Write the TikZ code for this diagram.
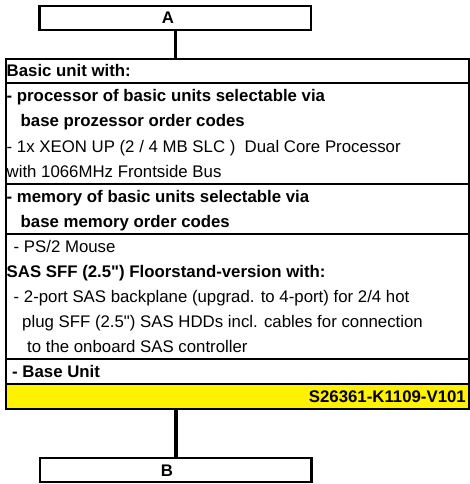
\documentclass[tikz,border=0pt]{standalone}
\usepackage{fontspec}
\setmainfont{Liberation Sans}
\begin{document}
\begin{tikzpicture}[x=1pt,y=-1pt]
\tikzset{
  frame/.style={draw=black, line width=2.5pt, fill=white, inner sep=0pt, minimum width=271.5pt, minimum height=24pt},
  table/.style={draw=black, line width=2pt, inner sep=0pt, minimum width=463pt, minimum height=350pt},
  rowline/.style={draw=black, line width=2pt},
  link/.style={draw=black, line width=3.5pt},
  txt/.style={anchor=base west, inner sep=0pt, font=\fontsize{16.8}{19}\selectfont},
  btxt/.style={anchor=base west, inner sep=0pt, font=\fontsize{16.8}{19}\selectfont\bfseries},
  lbl/.style={inner sep=0pt, anchor=base, font=\fontsize{16.8}{19}\selectfont\bfseries},
}
\useasboundingbox (0,0) rectangle (470,484);
% top and bottom boxes
\node[frame] (A) at (175.25,18.25) {};
\node[lbl] (Atext) at (168,24) {A};
\node[frame] (B) at (175.75,470) {};
\node[lbl] (Btext) at (167,476) {B};
% table
\fill[yellow] (6,384) rectangle (469,409);
\node[table] (T) at (237.5,234) {};
\draw[rowline] (T.west |- 0,83) -- (T.east |- 0,83);
\draw[rowline] (T.west |- 0,184) -- (T.east |- 0,184);
\draw[rowline] (T.west |- 0,234) -- (T.east |- 0,234);
\draw[rowline] (T.west |- 0,359) -- (T.east |- 0,359);
\draw[rowline] (T.west |- 0,384) -- (T.east |- 0,384);
% connectors
\draw[link] (A.south) -- (A.south |- T.north);
\draw[link] (B.north |- T.south) -- (B.north);
% texts
\node[btxt] (r1) at (6.5,77) {Basic unit with:};
\node[btxt] (r2) at (6.5,102) {- processor of basic units selectable via};
\node[btxt] (r3) at (20.5,127) {base prozessor order codes};
\node[txt] (r4) at (6.5,152) {- 1x XEON UP (2 / 4 MB SLC )\ \ Dual Core Processor};
\node[txt] (r5) at (6.5,177) {with 1066MHz Frontside Bus};
\node[btxt] (r6) at (6.5,202) {- memory of basic units selectable via};
\node[btxt] (r7) at (20.5,227) {base memory order codes};
\node[txt] (r8) at (13.5,252) {- PS/2 Mouse};
\node[btxt] (r9) at (6.5,277) {SAS SFF (2.5\textquotedbl) Floorstand-version with:};
\node[txt] (r10) at (13.5,302) {- 2-port SAS backplane (upgrad. to 4-port) for 2/4 hot};
\node[txt] (r11) at (22,327) {plug SFF (2.5\textquotedbl) SAS HDDs incl. cables for connection};
\node[txt] (r12) at (27,352) {to the onboard SAS controller};
\node[btxt] (r13) at (12,377) {- Base Unit};
\node[btxt, anchor=base east] (r14) at (466,402) {S26361-K1109-V101};
\end{tikzpicture}
\end{document}
